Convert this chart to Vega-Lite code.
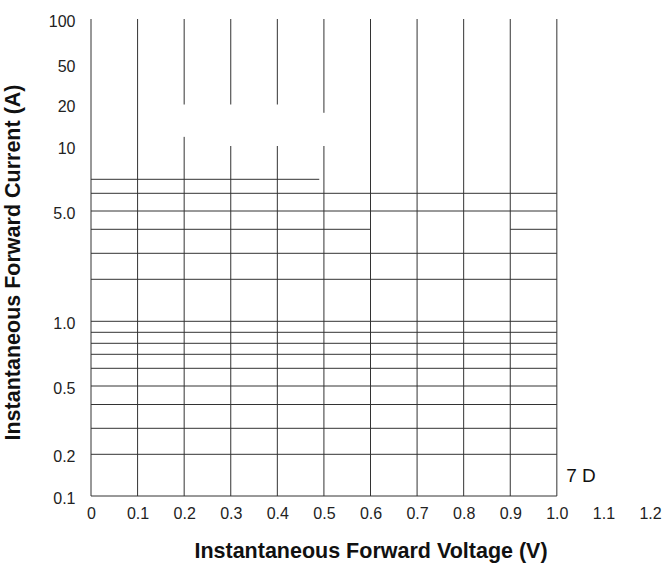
{
  "$schema": "https://vega.github.io/schema/vega-lite/v6.json",
  "autosize": "none",
  "width": 559,
  "height": 477,
  "padding": {"left": 91, "top": 19, "right": 12, "bottom": 71},
  "background": "white",
  "config": {"view": {"stroke": null}},
  "layer": [
    {
      "data": {"values": [
        {"x1": 0, "x2": 0, "y1": 0.1, "y2": 100},
        {"x1": 0.1, "x2": 0.1, "y1": 0.1, "y2": 100},
        {"x1": 0.2, "x2": 0.2, "y1": 0.1, "y2": 12.2},
        {"x1": 0.2, "x2": 0.2, "y1": 20, "y2": 100},
        {"x1": 0.3, "x2": 0.3, "y1": 0.1, "y2": 10},
        {"x1": 0.3, "x2": 0.3, "y1": 20, "y2": 100},
        {"x1": 0.4, "x2": 0.4, "y1": 0.1, "y2": 10},
        {"x1": 0.4, "x2": 0.4, "y1": 20, "y2": 100},
        {"x1": 0.5, "x2": 0.5, "y1": 0.1, "y2": 10},
        {"x1": 0.5, "x2": 0.5, "y1": 18, "y2": 100},
        {"x1": 0.6, "x2": 0.6, "y1": 0.1, "y2": 100},
        {"x1": 0.7, "x2": 0.7, "y1": 0.1, "y2": 100},
        {"x1": 0.8, "x2": 0.8, "y1": 0.1, "y2": 100},
        {"x1": 0.9, "x2": 0.9, "y1": 0.1, "y2": 100},
        {"x1": 1.0, "x2": 1.0, "y1": 0.1, "y2": 100},
        {"x1": 0, "x2": 1.0, "y1": 0.1, "y2": 0.1},
        {"x1": 0, "x2": 1.0, "y1": 0.2, "y2": 0.2},
        {"x1": 0, "x2": 1.0, "y1": 0.3, "y2": 0.3},
        {"x1": 0, "x2": 1.0, "y1": 0.4, "y2": 0.4},
        {"x1": 0, "x2": 1.0, "y1": 0.5, "y2": 0.5},
        {"x1": 0, "x2": 1.0, "y1": 0.6, "y2": 0.6},
        {"x1": 0, "x2": 1.0, "y1": 0.7, "y2": 0.7},
        {"x1": 0, "x2": 1.0, "y1": 0.8, "y2": 0.8},
        {"x1": 0, "x2": 1.0, "y1": 0.9, "y2": 0.9},
        {"x1": 0, "x2": 1.0, "y1": 1, "y2": 1},
        {"x1": 0, "x2": 1.0, "y1": 2, "y2": 2},
        {"x1": 0, "x2": 1.0, "y1": 3, "y2": 3},
        {"x1": 0, "x2": 0.6, "y1": 4, "y2": 4},
        {"x1": 0.9, "x2": 1.0, "y1": 4, "y2": 4},
        {"x1": 0, "x2": 1.0, "y1": 5, "y2": 5},
        {"x1": 0, "x2": 1.0, "y1": 6, "y2": 6},
        {"x1": 0, "x2": 0.49, "y1": 7, "y2": 7}
      ]},
      "mark": {"type": "rule", "color": "#333333", "strokeWidth": 1},
      "encoding": {
        "x": {
          "field": "x1", "type": "quantitative",
          "scale": {"domain": [0, 1.2], "nice": false, "zero": false},
          "axis": {
            "values": [0, 0.1, 0.2, 0.3, 0.4, 0.5, 0.6, 0.7, 0.8, 0.9, 1.0, 1.1, 1.2],
            "labelExpr": "datum.value == 0 ? '0' : format(datum.value, '.1f')",
            "domain": false, "ticks": false, "grid": false, "tickSize": 0,
            "labelFont": "Liberation Sans, Arial, sans-serif",
            "labelFontSize": 16, "labelColor": "#222222", "labelPadding": 9,
            "labelFlush": false, "labelOverlap": false,
            "title": "Instantaneous Forward Voltage (V)",
            "titleFont": "Liberation Sans, Arial, sans-serif", "titleFontSize": 21.5,
            "titleFontWeight": "bold", "titleColor": "#111111", "titlePadding": 19
          }
        },
        "x2": {"field": "x2"},
        "y": {
          "field": "y1", "type": "quantitative",
          "scale": {
            "type": "linear", "zero": false, "nice": false,
            "domain": [0.1, 0.2, 0.3, 0.4, 0.5, 0.6, 0.7, 0.8, 0.9, 1, 2, 3, 4, 5, 6, 7, 10, 20, 50, 100],
            "range": [477, 435.3, 409.3, 385.5, 367, 349.3, 335.3, 324.3, 313.3, 302.3, 260.3, 234.3, 210.3, 192, 174.3, 160.3, 127, 85.5, 45.5, 0]
          },
          "axis": {
            "values": [0.1, 0.2, 0.5, 1, 5, 10, 20, 50, 100],
            "labelExpr": "datum.value >= 10 ? format(datum.value, 'd') : format(datum.value, '.1f')",
            "domain": false, "ticks": false, "grid": false, "tickSize": 0,
            "labelFont": "Liberation Sans, Arial, sans-serif",
            "labelFontSize": 16, "labelColor": "#222222", "labelPadding": 16, "labelOffset": 2,
            "labelFlush": false, "labelOverlap": false,
            "title": "Instantaneous Forward Current (A)",
            "titleFont": "Liberation Sans, Arial, sans-serif", "titleFontSize": 21.5,
            "titleFontWeight": "bold", "titleColor": "#111111", "titlePadding": 24,
            "titleY": 243
          }
        },
        "y2": {"field": "y2"}
      }
    },
    {
      "data": {"values": [{"x1": 1.02, "y1": 0.148, "label": "7 D"}]},
      "mark": {"type": "text", "align": "left", "baseline": "middle", "font": "Liberation Sans, Arial, sans-serif", "fontSize": 19, "color": "#111111"},
      "encoding": {
        "x": {"field": "x1", "type": "quantitative"},
        "y": {"field": "y1", "type": "quantitative"},
        "text": {"field": "label"}
      }
    }
  ]
}
